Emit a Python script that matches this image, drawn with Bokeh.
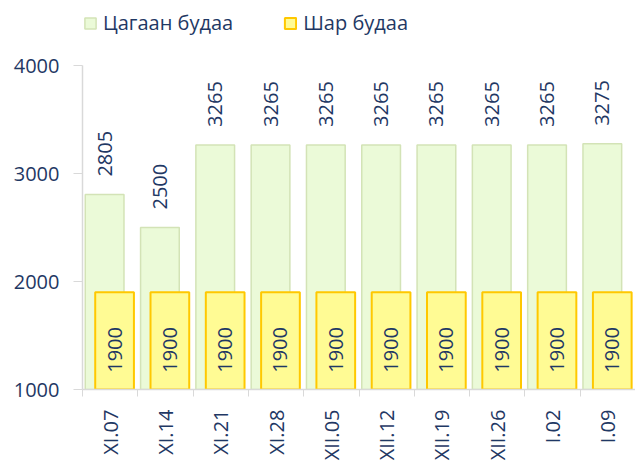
import math
from bokeh.plotting import figure
from bokeh.models import ColumnDataSource, FixedTicker, Legend, LegendItem, Range1d
from bokeh.transform import dodge
from bokeh.core.properties import value
from bokeh.embed import file_html
from bokeh.resources import INLINE

# ---- data ----
dates = ["XI.07", "XI.14", "XI.21", "XI.28", "XII.05", "XII.12", "XII.19", "XII.26", "I.02", "I.09"]
white_rice = [2805, 2500, 3265, 3265, 3265, 3265, 3265, 3265, 3265, 3275]
yellow_rice = [1900, 1900, 1900, 1900, 1900, 1900, 1900, 1900, 1900, 1900]
series_names = ["Цагаан будаа", "Шар будаа"]
y_ticks = [1000, 2000, 3000, 4000]

# ---- style ----
NAVY = "#1F3864"
AXIS = "#D9D9D9"
GREEN_FILL = "#EBFAD8"
GREEN_LINE = "#D3E3B6"
YELLOW_FILL = "#FFFB94"
YELLOW_LINE = "#FFC800"
FONT = "Open Sans"
Y_MIN, Y_MAX = 1000, 4528

idx = list(range(len(dates)))
src = ColumnDataSource(dict(
    x=idx,
    white=white_rice,
    yellow=yellow_rice,
    white_lbl=[str(v) for v in white_rice],
    yellow_lbl=[str(v) for v in yellow_rice],
    yellow_mid=[(Y_MIN + v) / 2 for v in yellow_rice],
))

p = figure(frame_width=553, frame_height=381,
           x_range=Range1d(-0.5, len(dates) - 0.5),
           y_range=Range1d(Y_MIN, Y_MAX),
           output_backend="svg", toolbar_location=None,
           min_border_left=82, min_border_right=0,
           min_border_top=8, min_border_bottom=0)

g = p.vbar(x=dodge("x", -0.1), width=0.70, bottom=0, top="white", source=src,
           fill_color=GREEN_FILL, line_color=GREEN_LINE, line_width=1.5)
y = p.vbar(x=dodge("x", 0.08), width=0.70, bottom=0, top="yellow", source=src,
           fill_color=YELLOW_FILL, line_color=YELLOW_LINE, line_width=2)

p.text(x=dodge("x", -0.1), y="white", text="white_lbl", source=src,
       angle=math.pi / 2, text_align="left", text_baseline="middle", y_offset=-18,
       text_font=value(FONT), text_font_size=value("20px"), text_color=NAVY)
p.text(x=dodge("x", 0.08), y="yellow_mid", text="yellow_lbl", source=src,
       angle=math.pi / 2, text_align="center", text_baseline="middle", y_offset=9,
       text_font=value(FONT), text_font_size=value("20px"), text_color=NAVY)

legend = Legend(items=[LegendItem(label=series_names[0], renderers=[g]),
                       LegendItem(label=series_names[1], renderers=[y])],
                orientation="horizontal", location="top_left", margin=1, padding=0,
                spacing=50, glyph_width=14, glyph_height=14, label_standoff=6,
                label_text_font=FONT, label_text_font_size="20px", label_text_color=NAVY,
                background_fill_alpha=0, border_line_alpha=0)
p.add_layout(legend)

# x axis
p.xaxis.ticker = FixedTicker(ticks=idx, minor_ticks=[i - 0.5 for i in range(len(dates) + 1)])
p.xaxis.major_label_overrides = {i: d for i, d in enumerate(dates)}
p.xaxis.major_label_orientation = math.pi / 2
p.xaxis.major_tick_out = 0
p.xaxis.major_tick_in = 0
p.xaxis.minor_tick_out = 7
p.xaxis.minor_tick_in = 0
p.xaxis.minor_tick_line_color = AXIS
p.xaxis.major_label_standoff = 13

# y axis
p.yaxis.ticker = FixedTicker(ticks=y_ticks)
p.yaxis.bounds = (y_ticks[0], y_ticks[-1])
p.yaxis.major_tick_out = 9
p.yaxis.major_tick_in = 0
p.yaxis.minor_tick_line_color = None
p.yaxis.major_label_standoff = 14
p.yaxis.major_tick_line_color = AXIS

for ax in (p.xaxis, p.yaxis):
    ax.axis_line_color = AXIS
    ax.axis_line_width = 1.5
    ax.major_label_text_font = FONT
    ax.major_label_text_font_size = "20px"
    ax.major_label_text_color = NAVY

p.grid.visible = False
p.outline_line_color = None
p.background_fill_color = "white"

open("out.html", "w").write(file_html(p, INLINE))
